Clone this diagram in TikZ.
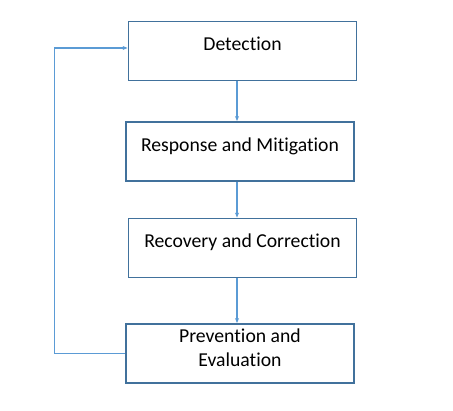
\documentclass[tikz,border=0pt]{standalone}
\usepackage{fontspec}
\setmainfont{Carlito}[Ligatures=NoCommon]
\usetikzlibrary{arrows.meta}
\definecolor{boxline}{RGB}{65,113,156}
\definecolor{flowline}{RGB}{91,155,213}

\begin{document}
\begin{tikzpicture}[x=1pt,y=-1pt,
  stage/.style={draw=boxline,line width=1.8pt,minimum width=228pt,minimum height=59pt,
    inner sep=0pt,align=center,font=\fontsize{19.7}{24.5}\selectfont,
    text height=10pt,text depth=10pt},
  flow/.style={draw=flowline,line width=1.2pt,-{Stealth[length=5pt,width=4pt]}}]
\useasboundingbox (0,0) rectangle (453,411);
\node[stage] (detection) at (242.5,51) {Detection};
\node[stage] (response) at (240,151.5) {Response and Mitigation};
\node[stage] (recovery) at (242.5,248) {Recovery and Correction};
\node[stage,text height=37pt] (prevention) at (240,353.5) {Prevention and\\Evaluation};
%
\coordinate (spine) at (237,0);
\draw[flow] (detection.south -| spine) -- (response.north -| spine);
\draw[flow] (response.south -| spine) -- (recovery.north -| spine);
\draw[flow] (recovery.south -| spine) -- (prevention.north -| spine);
\draw[flow] (prevention.west) -- ++(-71,0) |- ([yshift=3pt]detection.west);
\end{tikzpicture}
\end{document}
